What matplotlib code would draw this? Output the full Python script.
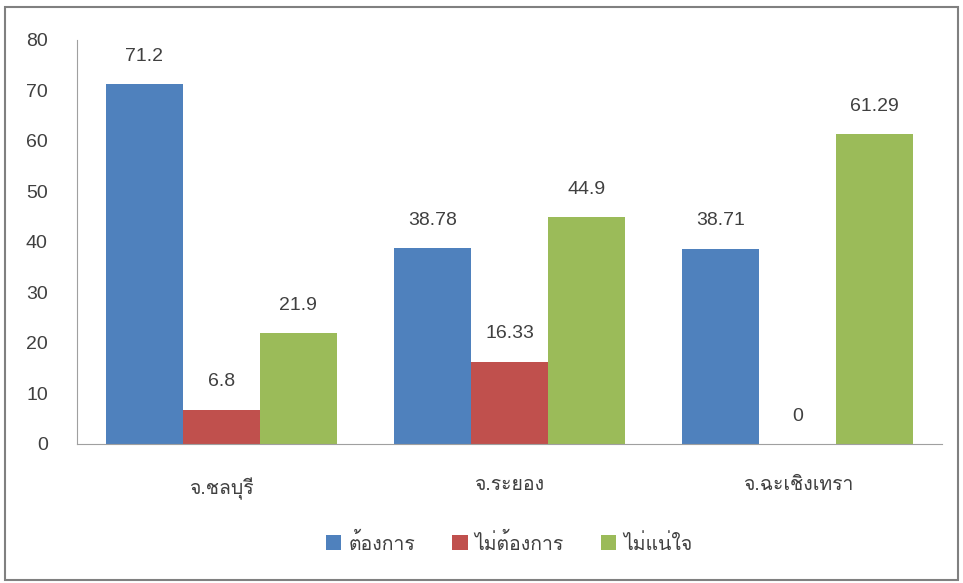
import matplotlib
matplotlib.use("Agg")
import matplotlib.pyplot as plt
from matplotlib.patches import Rectangle
import numpy as np

plt.rcParams['font.family'] = ['Liberation Sans', 'Loma', 'Noto Sans Thai']

categories = ["จ.ชลบุรี", "จ.ระยอง", "จ.ฉะเชิงเทรา"]
series = ["ต้องการ", "ไม่ต้องการ", "ไม่แน่ใจ"]
want = [71.2, 38.78, 38.71]
not_want = [6.8, 16.33, 0]
unsure = [21.9, 44.9, 61.29]
labels = [["71.2", "38.78", "38.71"], ["6.8", "16.33", "0"], ["21.9", "44.9", "61.29"]]
colors = ["#4f81bd", "#c0504d", "#9bbb59"]

fig = plt.figure(figsize=(9.63, 5.83), dpi=100)
ax = fig.add_axes([77/963, 1-444/583, (942-77)/963, (444-40)/583])

x = np.arange(len(categories))
w = 0.267
for i, vals in enumerate([want, not_want, unsure]):
    xs = x + (i - 1) * w
    ax.bar(xs, vals, w, color=colors[i], label=series[i])
    for xi, v, t in zip(xs, vals, labels[i]):
        ax.text(xi, v + 3.8, t, ha='center', va='bottom', fontsize=14, color='#404040')

ax.set_xlim(-0.5, 2.5)
ax.set_ylim(0, 80)
ax.set_yticks(range(0, 81, 10))
ax.set_xticks(x)
ax.set_xticklabels(categories)
ax.tick_params(axis='both', length=0, labelsize=14, colors='#404040')
ax.tick_params(axis='x', pad=24)
ax.tick_params(axis='y', pad=21)
ax.spines['top'].set_visible(False)
ax.spines['right'].set_visible(False)
ax.spines['left'].set_color('#a0a0a0')
ax.spines['bottom'].set_color('#a0a0a0')

leg = fig.legend(loc='center', bbox_to_anchor=(509/963, 1-543/583), ncol=3, frameon=False,
                 fontsize=14, handlelength=0.8, handleheight=0.8, columnspacing=1.9, handletextpad=0.35)
for t in leg.get_texts():
    t.set_color('#404040')

fig.patches.append(Rectangle((5/963, 3/583), 1 - 10/963, 1 - 10/583, transform=fig.transFigure,
                             fill=False, edgecolor='#808080', linewidth=1.5))

fig.savefig("out.png", dpi=100)
